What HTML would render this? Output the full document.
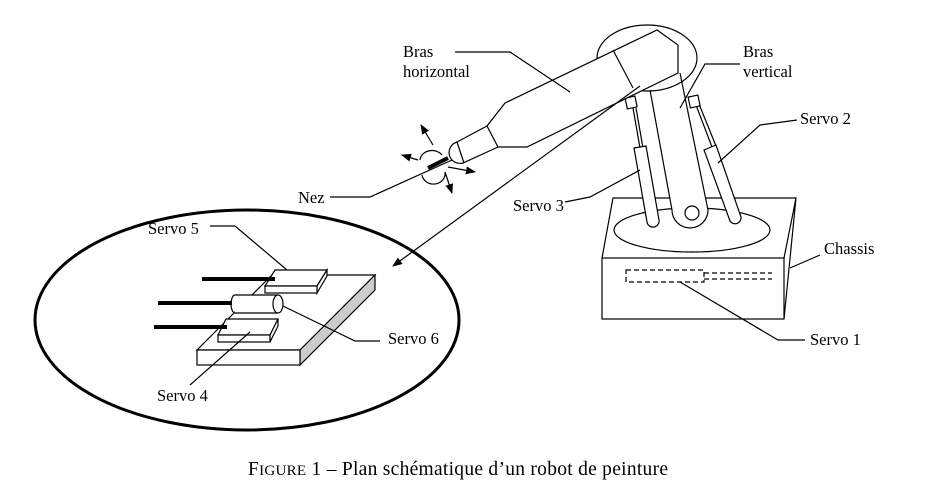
<!DOCTYPE html>
<html><head><meta charset="utf-8"><style>
html,body{margin:0;padding:0;background:#fff}
svg{display:block}
text{font-family:"Liberation Serif",serif;font-size:16.5px;fill:#000}
</style></head><body>
<svg width="928" height="491" viewBox="0 0 928 491" xmlns="http://www.w3.org/2000/svg">
<defs><marker id="ah" markerWidth="10" markerHeight="8" refX="9" refY="4" orient="auto" markerUnits="userSpaceOnUse"><path d="M0,0 L10,4 L0,8 z" fill="#000"/></marker></defs>
<g fill="none" stroke="#000" stroke-width="1.2">
<!-- chassis -->
<rect x="602" y="258" width="182" height="61" fill="#fff"/>
<path d="M602,258 L613,198 L796,198 L784,258 M796,198 L784,319"/>
<ellipse cx="692" cy="230" rx="78" ry="22" fill="#fff"/>
<rect x="626" y="270" width="78" height="12" stroke-dasharray="5,3"/>
<path d="M704,273 H772 M704,279 H772" stroke-dasharray="5,3"/>
<!-- vertical arm -->
<path d="M650,90 L672,210 A18,18 0 0 0 708,210 L680,73" fill="#fff"/>
<circle cx="692" cy="213" r="7" fill="#fff"/>
<!-- servo 3 -->
<path d="M633,108 L640,148 M636,108 L643,148"/>
<rect x="626" y="97" width="10" height="11" transform="rotate(-12 631 102)" fill="#fff"/>
<path d="M634,148 L646,146 L659,220 A6,6 0 0 1 647,222 Z" fill="#fff"/>
<!-- servo 2 -->
<path d="M696,105 L712,147 M699,104 L716,146"/>
<rect x="689" y="96" width="10" height="11" transform="rotate(-12 694 101)" fill="#fff"/>
<path d="M704,150 L716,145 L741,217 A6,6 0 0 1 730,221 Z" fill="#fff"/>
<!-- top ellipse -->
<ellipse cx="647" cy="58" rx="50" ry="33"/>
<!-- horizontal arm -->
<path d="M505,103 L657,30 L678,45 L678,73 L527,147 L498,147 L487,126 Z" fill="#fff"/>
<path d="M613,50 L633,88"/>
<path d="M487,126 L457,142 A10,10 0 0 0 463,163 L498,147"/>
<path d="M457,142 L464,163"/>
<!-- arrow to lens -->
<path d="M640,86 L393,266" marker-end="url(#ah)"/>
<!-- nez arrows -->
<path d="M433,145 L421,125" marker-end="url(#ah)"/>
<path d="M418,160 L402,155" marker-end="url(#ah)"/>
<path d="M448,167 L475,172" marker-end="url(#ah)"/>
<path d="M445,172 L452,193" marker-end="url(#ah)"/>
<path d="M420,160 A12,10 0 0 1 442,155"/>
<path d="M422,175 A11,10 0 0 0 445,172"/>
<path d="M428,168 L448,158" stroke-width="4"/>
<path d="M330,197 L370,197 L452,160"/>
<!-- leaders -->
<path d="M455,52 L510,52 L570,92"/>
<path d="M740,64 L705,64 L680,108"/>
<path d="M797,120 L760,125 L718,163"/>
<path d="M565,202 L590,197 L640,170"/>
<path d="M820,255 L790,268"/>
<path d="M805,340 L778,340 L680,282"/>
<!-- lens -->
<ellipse cx="247" cy="320" rx="212" ry="110" stroke-width="3"/>
<polygon points="197,350 300,350 375,275 272,275" fill="#fff"/>
<polygon points="300,350 375,275 375,290 300,365" fill="#ccc"/>
<rect x="197" y="350" width="103" height="15" fill="#fff"/>
<polygon points="265,286 275,270 327,270 317,286" fill="#fff"/>
<polygon points="317,286 327,270 327,276 317,293" fill="#fff"/>
<rect x="265" y="286" width="52" height="7" fill="#fff"/>
<polygon points="218,335 226,319 278,319 270,335" fill="#fff"/>
<polygon points="270,335 278,319 278,326 270,342" fill="#fff"/>
<rect x="218" y="335" width="52" height="7" fill="#fff"/>
<rect x="235" y="295" width="43" height="18" fill="#fff" stroke="none"/>
<path d="M235,295 L278,295 M235,313 L278,313 M235,295 A4,9 0 0 0 235,313"/>
<ellipse cx="278" cy="304" rx="5" ry="9" fill="#fff"/>
<path d="M202,279 L275,279 M158,303 L232,303 M154,327 L227,327" stroke-width="4"/>
<path d="M210,226 L235,226 L287,270"/>
<path d="M380,341 L355,341 L283,306"/>
<path d="M190,385 L250,332"/>
</g>
<text x="403" y="57">Bras</text><text x="403" y="77">horizontal</text>
<text x="743" y="57">Bras</text><text x="743" y="77">vertical</text>
<text x="800" y="124">Servo 2</text>
<text x="513" y="211">Servo 3</text>
<text x="298" y="203">Nez</text>
<text x="824" y="254">Chassis</text>
<text x="810" y="345">Servo 1</text>
<text x="148" y="234">Servo 5</text>
<text x="388" y="344">Servo 6</text>
<text x="157" y="401">Servo 4</text>
<text x="248" y="475" style="font-size:19.5px" textLength="420" lengthAdjust="spacing">F<tspan style="font-size:15px">IGURE</tspan> 1 – Plan schématique d’un robot de peinture</text>
</svg>
</body></html>
